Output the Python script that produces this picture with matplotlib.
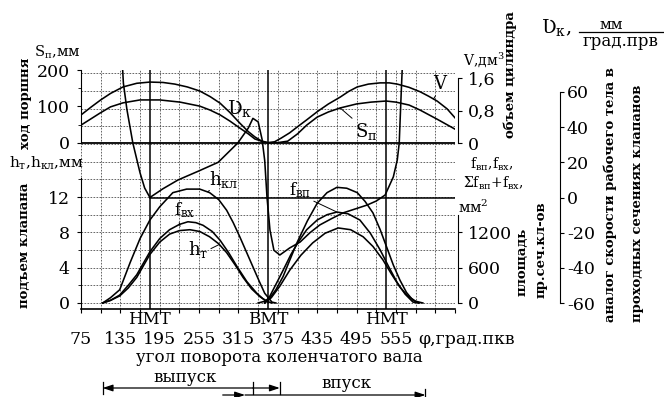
import matplotlib.pyplot as plt
from matplotlib.lines import Line2D

plt.rcParams['font.family'] = ['DejaVu Serif']
plt.rcParams['mathtext.fontset'] = 'dejavuserif'
plt.rcParams['axes.unicode_minus'] = False

# crank angle grid / ticks
phi_ticks = list(range(75, 646, 30))
phi_labels = [75, 135, 195, 255, 315, 375, 435, 495, 555]
tdc_bdc = [180, 360, 540]

# cylinder volume V, dm3 (upper curve)
phi_v = [75, 90, 105, 120, 139, 160, 180, 200, 218, 237, 256, 272, 287, 302, 317, 330, 340, 350,
         360, 370, 380, 393, 405, 419, 435, 452, 470, 483, 496, 513, 531, 545, 557, 575, 592, 605,
         618, 633, 645]
vol = [0.69, 0.88, 1.06, 1.22, 1.38, 1.47, 1.50, 1.49, 1.45, 1.38, 1.28, 1.14, 0.98, 0.75, 0.49,
       0.28, 0.15, 0.05, 0.01, 0.03, 0.12, 0.25, 0.40, 0.57, 0.77, 0.96, 1.13, 1.27, 1.38, 1.45,
       1.48, 1.48, 1.45, 1.37, 1.26, 1.15, 1.03, 0.84, 0.62]

# piston stroke Sп, mm (lower curve)
phi_s = [75, 90, 104, 120, 139, 165, 180, 195, 226, 256, 272, 287, 302, 317, 330, 340, 350, 360,
         375, 390, 405, 419, 435, 452, 470, 495, 517, 540, 555, 575, 592, 618, 633, 645]
stroke = [49, 66, 82, 99, 110, 118, 118, 118, 112, 101, 90, 77, 60, 41, 25, 11, 5, 0,
          1, 5, 25, 49, 71, 85, 96, 107, 112, 115, 112, 104, 90, 65, 50, 38]

# valve lift hкл, mm (exhaust / intake)
phi_hkl_ex = [108, 120, 134, 150, 165, 180, 195, 215, 236, 256, 271, 285, 297, 307, 317, 327,
              337, 347, 355, 366, 372]
hkl_ex = [0, 0.6, 1.5, 4.6, 7.3, 9.4, 10.9, 12.5, 12.9, 12.9, 12.5, 11.7, 10.5, 9.1, 7.5, 5.8,
          4.1, 2.4, 1.1, 0.1, 0]
phi_hkl_in = [345, 355, 363, 372, 383, 394, 404, 420, 435, 450, 465, 480, 496, 508, 520, 531,
              541, 551, 561, 571, 581, 590]
hkl_in = [0, 0.2, 0.6, 1.5, 3.0, 5.0, 6.8, 9.3, 11.3, 12.5, 13.1, 13.0, 12.5, 11.5, 10.2, 8.3,
          6.3, 4.3, 2.6, 1.2, 0.3, 0]

# tappet lift hт, mm
phi_ht_ex = [108, 120, 134, 147, 160, 180, 195, 210, 225, 241, 256, 271, 285, 297, 310, 322,
             335, 348, 358, 366]
ht_ex = [0, 0.3, 0.8, 1.7, 2.9, 5.5, 6.9, 7.8, 8.2, 8.3, 8.1, 7.5, 6.7, 5.7, 4.3, 2.9, 1.6,
         0.7, 0.2, 0]
phi_ht_in = [355, 365, 378, 393, 410, 428, 447, 467, 486, 505, 520, 535, 548, 561, 573, 585, 596]
ht_in = [0, 0.6, 1.9, 3.7, 5.4, 6.8, 7.9, 8.5, 8.3, 7.5, 6.4, 4.9, 3.3, 1.8, 0.8, 0.2, 0]

# flow areas fвх / fвп, mm2
phi_fvx = [108, 120, 134, 147, 160, 180, 195, 210, 225, 238, 250, 261, 275, 287, 300, 313,
           328, 343, 352, 360]
fvx = [0, 45, 135, 300, 480, 870, 1095, 1245, 1335, 1380, 1365, 1320, 1215, 1065, 855, 615,
       360, 165, 75, 15]
phi_fvp = [355, 363, 372, 383, 395, 407, 419, 435, 450, 465, 482, 500, 516, 531, 544, 557,
           569, 581, 590]
fvp = [0, 120, 315, 555, 825, 1050, 1245, 1410, 1500, 1545, 1515, 1410, 1185, 900, 615, 345,
       150, 15, 0]

# gas velocity analogue υк, mm/deg
phi_uk = [138.5, 139.6, 145, 154, 165, 172, 180, 200, 223, 254, 284, 314, 330, 337, 345, 351,
          355, 358.5, 363, 369, 378, 393, 409, 424, 439, 457, 474, 493, 511, 525, 538.5, 551,
          557, 560, 563, 564.5]
uk = [72.5, 65, 50, 31, 14, 5.4, 0, 5, 10, 15, 20, 31, 39.5, 45, 43, 33, 21, 0, -18.5, -30,
      -32.7, -28.7, -25.3, -20, -15.6, -12, -8.8, -6.5, -4.3, -2, 1.4, 11.7, 21.3, 31, 59.4, 72.5]

W, H = 664, 397
fig = plt.figure(figsize=(W / 100, H / 100), dpi=100)


def fx(x):
    return x / W


def fy(y):
    return 1 - y / H


def ftext(x, y, s, **kw):
    kw.setdefault('ha', 'center')
    kw.setdefault('va', 'center')
    fig.text(fx(x), fy(y), s, **kw)


ax = fig.add_axes([fx(81), fy(309), 374 / W, 239 / H])
ax.set_xlim(75, 645)
ax.set_ylim(-0.68, 26.39)

ax_s = ax.twinx()
ax_s.set_ylim(-454.8, 200)
ax_v = ax.twinx()
ax_v.set_ylim(-4.086, 1.797)
ax_f = ax.twinx()
ax_f.set_ylim(-102, 3958)
ax_u = ax.twinx()
ax_u.set_ylim(-63.4, 72.5)

for a in (ax, ax_s, ax_v, ax_f, ax_u):
    for sp in a.spines.values():
        sp.set_visible(False)

# grid
dash = (0, (2, 1.6))
for p in phi_ticks:
    ax.axvline(p, color='0.3', lw=0.6, ls=dash)
for h in range(0, 27, 2):
    ax.axhline(h, color='0.3', lw=0.6, ls=dash)
for p in tdc_bdc:
    ax.axvline(p, color='k', lw=1.1)
ax_s.axhline(0, color='k', lw=1.3)
ax_u.plot([180, 645], [0, 0], color='k', lw=1.1)

# x axis: labels every 60 deg, ticks every 30 deg
ax.spines['bottom'].set_visible(True)
ax.spines['bottom'].set_linewidth(1.2)
ax.set_xticks(phi_ticks, [str(p) if p in phi_labels else '' for p in phi_ticks])
ax.tick_params(axis='x', direction='out', length=3, pad=13, labelsize=12.5)
ftext(418, 339, 'φ,град.пкв', ha='left', fontsize=12.5)

# left axes
ax.spines['left'].set_visible(True)
ax.spines['left'].set_bounds(-0.68, 14.2)
ax.set_yticks([0, 4, 8, 12])
ax.set_yticks([2, 6, 10, 14], minor=True)
ax.tick_params(axis='y', which='major', length=3, pad=5, labelsize=12.5)
ax.tick_params(axis='y', which='minor', length=2)

ax_s.yaxis.tick_left()
ax_s.spines['left'].set_visible(True)
ax_s.spines['left'].set_bounds(0, 200)
ax_s.set_yticks([0, 100, 200])
ax_s.set_yticks([50, 150], minor=True)
ax_s.tick_params(axis='y', which='major', length=3, pad=5, labelsize=12.5)
ax_s.tick_params(axis='y', which='minor', length=2)

# right axes
ax_v.spines['right'].set_visible(True)
ax_v.spines['right'].set_position(('outward', 2.2))
ax_v.spines['right'].set_bounds(0, 1.6)
ax_v.set_yticks([0, 0.8, 1.6], ['0', '0,8', '1,6'])
ax_v.tick_params(axis='y', length=3, pad=4, labelsize=12.5)

ax_f.spines['right'].set_visible(True)
ax_f.spines['right'].set_position(('outward', 2.2))
ax_f.spines['right'].set_bounds(0, 1500)
ax_f.set_yticks([0, 600, 1200])
ax_f.tick_params(axis='y', length=3, pad=4, labelsize=12.5)

ax_u.spines['right'].set_visible(True)
ax_u.spines['right'].set_position(('outward', 75.6))
ax_u.spines['right'].set_bounds(-60, 60)
ax_u.set_yticks(list(range(-60, 61, 20)))
ax_u.tick_params(axis='y', length=3, pad=2, labelsize=12.5)

# curves
lk = dict(color='k', lw=1.15)
ax_v.plot(phi_v, vol, **lk)
ax_s.plot(phi_s, stroke, **lk)
ax.plot(phi_hkl_ex, hkl_ex, **lk)
ax.plot(phi_hkl_in, hkl_in, **lk)
ax.plot(phi_ht_ex, ht_ex, **lk)
ax.plot(phi_ht_in, ht_in, **lk)
ax_f.plot(phi_fvx, fvx, **lk)
ax_f.plot(phi_fvp, fvp, **lk)
ax_u.plot(phi_uk, uk, **lk)

# curve labels with leaders
lead = dict(arrowstyle='-', lw=0.7, color='k', shrinkA=0, shrinkB=0)
ax_s.annotate('S$_\\mathrm{п}$', xy=(470, 96), xytext=(fx(366), fy(131)),
              textcoords='figure fraction', ha='center', va='center', fontsize=13,
              arrowprops=dict(lead, relpos=(0.1, 0.9)))
ax_v.annotate('V', xy=(612, 1.08), xytext=(fx(440), fy(84)),
              textcoords='figure fraction', ha='center', va='center', fontsize=13,
              arrowprops=dict(lead, relpos=(0.3, 0.0)))
ax.annotate('h$_\\mathrm{кл}$', xy=(268, 12.6), xytext=(fx(224), fy(180)),
            textcoords='figure fraction', ha='center', va='center', fontsize=13,
            arrowprops=dict(lead, relpos=(0.0, 0.0)))
ax_f.annotate('f$_\\mathrm{вх}$', xy=(226, 1300), xytext=(fx(185), fy(210)),
              textcoords='figure fraction', ha='center', va='center', fontsize=12,
              arrowprops=dict(lead, relpos=(0.2, 0.0)))
ax.annotate('h$_\\mathrm{т}$', xy=(285, 6.6), xytext=(fx(198), fy(250)),
            textcoords='figure fraction', ha='center', va='center', fontsize=13,
            arrowprops=dict(lead, relpos=(1.0, 0.5)))
ax_f.annotate('f$_\\mathrm{вп}$', xy=(465, 1545), xytext=(fx(300), fy(190)),
              textcoords='figure fraction', ha='center', va='center', fontsize=12,
              arrowprops=dict(lead, relpos=(1.0, 0.0)))
ftext(240, 108, 'Ʋ$_\\mathrm{к}$', fontsize=14)

# axis titles
ftext(57, 52, 'S$_\\mathrm{п}$,мм', fontsize=10.5)
ftext(46, 163, 'h$_\\mathrm{т}$,h$_\\mathrm{кл}$,мм', fontsize=11)
ftext(484, 60, 'V,дм$^3$', fontsize=10)
ftext(492, 164, 'f$_\\mathrm{вп}$,f$_\\mathrm{вх}$,', fontsize=10)
ftext(493, 183, 'Σf$_\\mathrm{вп}$+f$_\\mathrm{вх}$,', fontsize=10)
ftext(473, 207, 'мм$^2$', fontsize=10.5)
ftext(556, 28, 'Ʋ$_\\mathrm{к}$,', fontsize=14)
ftext(611, 25, 'мм', fontsize=11)
ftext(621, 41, 'град.прв', fontsize=12)
fig.add_artist(Line2D([fx(579), fx(663)], [fy(32), fy(32)], color='k', lw=0.9))

bold = dict(fontsize=9.5, fontweight='bold', rotation=90)
ftext(25, 103, 'ход поршня', **bold)
ftext(25, 245, 'подъем клапана', **bold)
ftext(510, 75, 'объем цилиндра', **bold)
ftext(522, 262, 'площадь', **bold)
ftext(541, 250, 'пр.сеч.кл-ов', **bold)
ftext(610, 195, 'аналог скорости рабочего тела в', **bold)
ftext(638, 203, 'проходных сечениях клапанов', **bold)

# bottom annotations
for p, s in zip(tdc_bdc, ['НМТ', 'ВМТ', 'НМТ']):
    ax.text(p, (309 - 319) / 239, s, transform=ax.get_xaxis_transform(),
            ha='center', va='center', fontsize=12)
ftext(279, 357, 'угол поворота коленчатого вала', fontsize=12)
ftext(185, 377, 'выпуск', fontsize=12)
ftext(346, 384, 'впуск', fontsize=12)

tr = ax.get_xaxis_transform()
y1 = (309 - 388) / 239
y2 = (309 - 395) / 239
arr = dict(arrowstyle='-|>,head_length=0.6,head_width=0.2', color='k', lw=0.9,
           shrinkA=0, shrinkB=0)
ax.annotate('', xy=(108, y1), xytext=(337, y1), xycoords=tr, textcoords=tr,
            arrowprops=arr, annotation_clip=False)
ax.annotate('', xy=(378, y1), xytext=(337, y1), xycoords=tr, textcoords=tr,
            arrowprops=arr, annotation_clip=False)
ax.annotate('', xy=(325, y2), xytext=(291, y2), xycoords=tr, textcoords=tr,
            arrowprops=arr, annotation_clip=False)
ax.annotate('', xy=(600, y2), xytext=(325, y2), xycoords=tr, textcoords=tr,
            arrowprops=arr, annotation_clip=False)
for p, yy in [(108, y1), (337, y1), (378, y1), (600, y2)]:
    ax.plot([p, p], [yy - 0.025, yy + 0.025], transform=tr, color='k', lw=0.9, clip_on=False)

fig.savefig('out.png', dpi=100)
